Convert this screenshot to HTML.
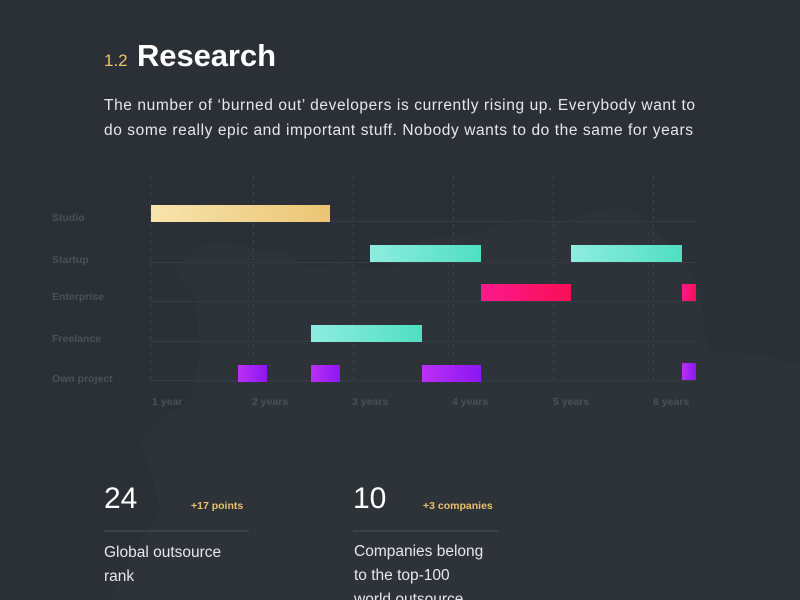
<!DOCTYPE html>
<html><head><meta charset="utf-8"><style>
html,body{margin:0;padding:0;background:#2b2f36;}
svg{display:block}
text{font-family:"Liberation Sans",sans-serif}
</style></head><body>
<svg width="800" height="600" viewBox="0 0 800 600" xmlns="http://www.w3.org/2000/svg">
<defs>
<linearGradient id="gy" x1="0" x2="1"><stop offset="0" stop-color="#f7e4ad"/><stop offset="1" stop-color="#ebc574"/></linearGradient>
<linearGradient id="gt" x1="0" x2="1"><stop offset="0" stop-color="#8eede0"/><stop offset="1" stop-color="#4fdfc0"/></linearGradient>
<linearGradient id="gp" x1="0" x2="1"><stop offset="0" stop-color="#fb1a8c"/><stop offset="1" stop-color="#f80f55"/></linearGradient>
<linearGradient id="gv" x1="0" x2="1"><stop offset="0" stop-color="#bb2ff5"/><stop offset="1" stop-color="#8b18f2"/></linearGradient>
</defs>
<rect width="800" height="600" fill="#2b2f36"/>
<path d="M175 268 L200 245 L215 243 L240 245 L260 250 L290 252 L305 268 L320 268 L340 262 L370 270 L395 268 L420 240 L480 232 L520 218 L560 222 L600 210 L630 208 L645 220 L660 235 L680 255 L700 290 L705 330 L710 350 L760 355 L800 365 L800 600 L110 600 L130 560 L160 510 L150 470 L140 440 L160 420 L190 400 L200 350 L195 300 Z" fill="#2e3239"/>
<text x="104" y="66" font-size="17" fill="#e9c16b">1.2</text>
<text x="137" y="66" font-size="31" font-weight="bold" fill="#ffffff" textLength="139">Research</text>
<text x="104" y="110" font-size="15.5" fill="#e6e7ea" textLength="591">The number of ‘burned out’ developers is currently rising up. Everybody want to</text>
<text x="104" y="135" font-size="15.5" fill="#e6e7ea" textLength="589">do some really epic and important stuff. Nobody wants to do the same for years</text>
<g stroke="#3d424a" stroke-width="1" stroke-dasharray="4,4">
<line x1="150.5" y1="176" x2="150.5" y2="381"/><line x1="253.5" y1="176" x2="253.5" y2="381"/><line x1="353.5" y1="176" x2="353.5" y2="381"/><line x1="453.5" y1="176" x2="453.5" y2="381"/><line x1="553.5" y1="176" x2="553.5" y2="381"/><line x1="653.5" y1="176" x2="653.5" y2="381"/>
</g>
<g stroke="#363a42" stroke-width="1">
<line x1="150" y1="221.5" x2="696" y2="221.5"/><line x1="150" y1="262.5" x2="696" y2="262.5"/><line x1="150" y1="301.5" x2="696" y2="301.5"/><line x1="150" y1="341.5" x2="696" y2="341.5"/><line x1="150" y1="380.5" x2="696" y2="380.5"/>
</g>
<g font-size="10.5" font-weight="bold" fill="#4b5059">
<text x="52" y="221">Studio</text><text x="52" y="263">Startup</text><text x="52" y="300">Enterprise</text><text x="52" y="342">Freelance</text><text x="52" y="382">Own project</text>
<text x="152" y="405">1 year</text><text x="252" y="405">2 years</text><text x="352" y="405">3 years</text><text x="452" y="405">4 years</text><text x="553" y="405">5 years</text><text x="653" y="405">6 years</text>
</g>
<rect x="151" y="205" width="179" height="17" fill="url(#gy)"/>
<rect x="370" y="245" width="111" height="17" fill="url(#gt)"/>
<rect x="571" y="245" width="111" height="17" fill="url(#gt)"/>
<rect x="481" y="284" width="90" height="17" fill="url(#gp)"/>
<rect x="682" y="284" width="14" height="17" fill="url(#gp)"/>
<rect x="311" y="325" width="111" height="17" fill="url(#gt)"/>
<rect x="238" y="365" width="29" height="17" fill="url(#gv)"/>
<rect x="311" y="365" width="29" height="17" fill="url(#gv)"/>
<rect x="422" y="365" width="59" height="17" fill="url(#gv)"/>
<rect x="682" y="363" width="14" height="17" fill="url(#gv)"/>
<text x="104" y="508" font-size="30" fill="#ffffff">24</text>
<text x="191" y="509" font-size="10.5" font-weight="bold" fill="#e9c16b">+17 points</text>
<rect x="104" y="530" width="145" height="2" fill="#3c4048"/>
<text x="104" y="557" font-size="15.5" fill="#e6e7ea">Global outsource</text>
<text x="104" y="581" font-size="15.5" fill="#e6e7ea">rank</text>
<text x="353" y="508" font-size="30" fill="#ffffff">10</text>
<text x="423" y="509" font-size="10.5" font-weight="bold" fill="#e9c16b">+3 companies</text>
<rect x="353" y="530" width="145" height="2" fill="#3c4048"/>
<text x="354" y="556" font-size="15.5" fill="#e6e7ea">Companies belong</text>
<text x="354" y="580" font-size="15.5" fill="#e6e7ea">to the top-100</text>
<text x="354" y="604" font-size="15.5" fill="#e6e7ea">world outsource</text>
</svg>
</body></html>
